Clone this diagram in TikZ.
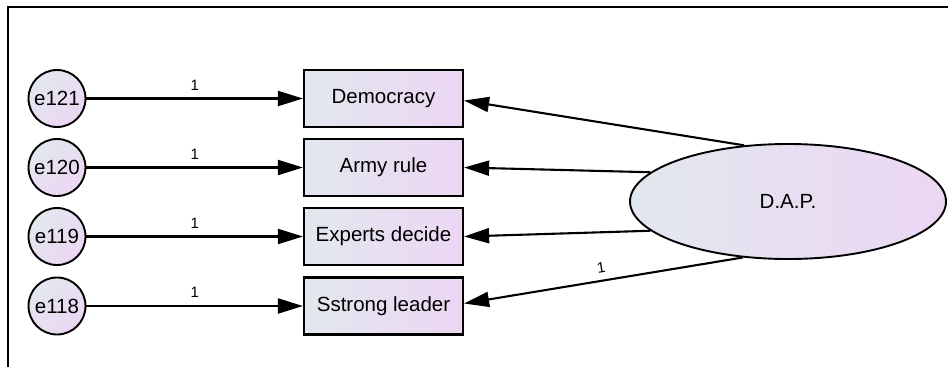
\documentclass[tikz,border=0pt]{standalone}
\usepackage{fontspec}
\setmainfont{Liberation Sans}
\usetikzlibrary{arrows.meta,shapes.geometric}
\definecolor{fillA}{RGB}{226,232,238}
\definecolor{fillB}{RGB}{236,214,243}
\begin{document}
\begin{tikzpicture}[x=1pt,y=-1pt,
  obsbox/.style={draw=black, line width=2.2pt, minimum width=159pt, minimum height=57pt,
    inner sep=0pt, left color=fillA, right color=fillB,
    font=\fontsize{20.5}{24}\selectfont},
  errnode/.style={circle, draw=black, line width=1.9pt, minimum size=57pt, inner sep=0pt,
    top color=fillA, bottom color=fillB, shading angle=45,
    font=\fontsize{20.5}{24}\selectfont},
  latnode/.style={ellipse, draw=black, line width=1.9pt, minimum width=316pt,
    minimum height=115pt, inner sep=0pt, left color=fillA, right color=fillB,
    font=\fontsize{20.5}{24}\selectfont},
  regpath/.style={line width=2.1pt, -{Triangle[length=25pt,width=15pt]}},
  weight/.style={font=\fontsize{15}{17}\selectfont, inner sep=2pt}
]
\useasboundingbox (0,0) rectangle (948,367);

% frame
\draw[line width=1.6pt] (8,367) -- (8,7) -- (948,7);

% latent variable
\node[latnode] (dap) at (788,201.5) {D.A.P.};

% observed indicators
\node[obsbox] (d1) at (383.5,98.5) {Democracy};
\node[obsbox] (d2) at (383.5,167.5) {Army rule};
\node[obsbox] (d3) at (383.5,236.5) {Experts decide};
\node[obsbox] (d4) at (383.5,306) {Sstrong leader};

% error terms
\node[errnode] (e121) at (57,98.5) {e121};
\node[errnode] (e120) at (57,167.5) {e120};
\node[errnode] (e119) at (57,236.5) {e119};
\node[errnode] (e118) at (57,306) {e118};

% error paths
\draw[regpath] (e121) -- node[weight, above=5pt] {1} (d1);
\draw[regpath] (e120) -- node[weight, above=5pt] {1} (d2);
\draw[regpath] (e119) -- node[weight, above=5pt] {1} (d3);
\draw[regpath] (e118) -- node[weight, above=5pt] {1} (d4);

% factor loadings
\draw[regpath] (dap.128.5) -- ([yshift=-2pt]d1.east);
\draw[regpath] (dap.168) -- (d2.east);
\draw[regpath] (dap.192) -- (d3.east);
\draw[regpath] (dap.231.3) -- node[weight, pos=0.5, above=5pt, sloped] {1} ([yshift=2.5pt]d4.east);
\end{tikzpicture}
\end{document}
